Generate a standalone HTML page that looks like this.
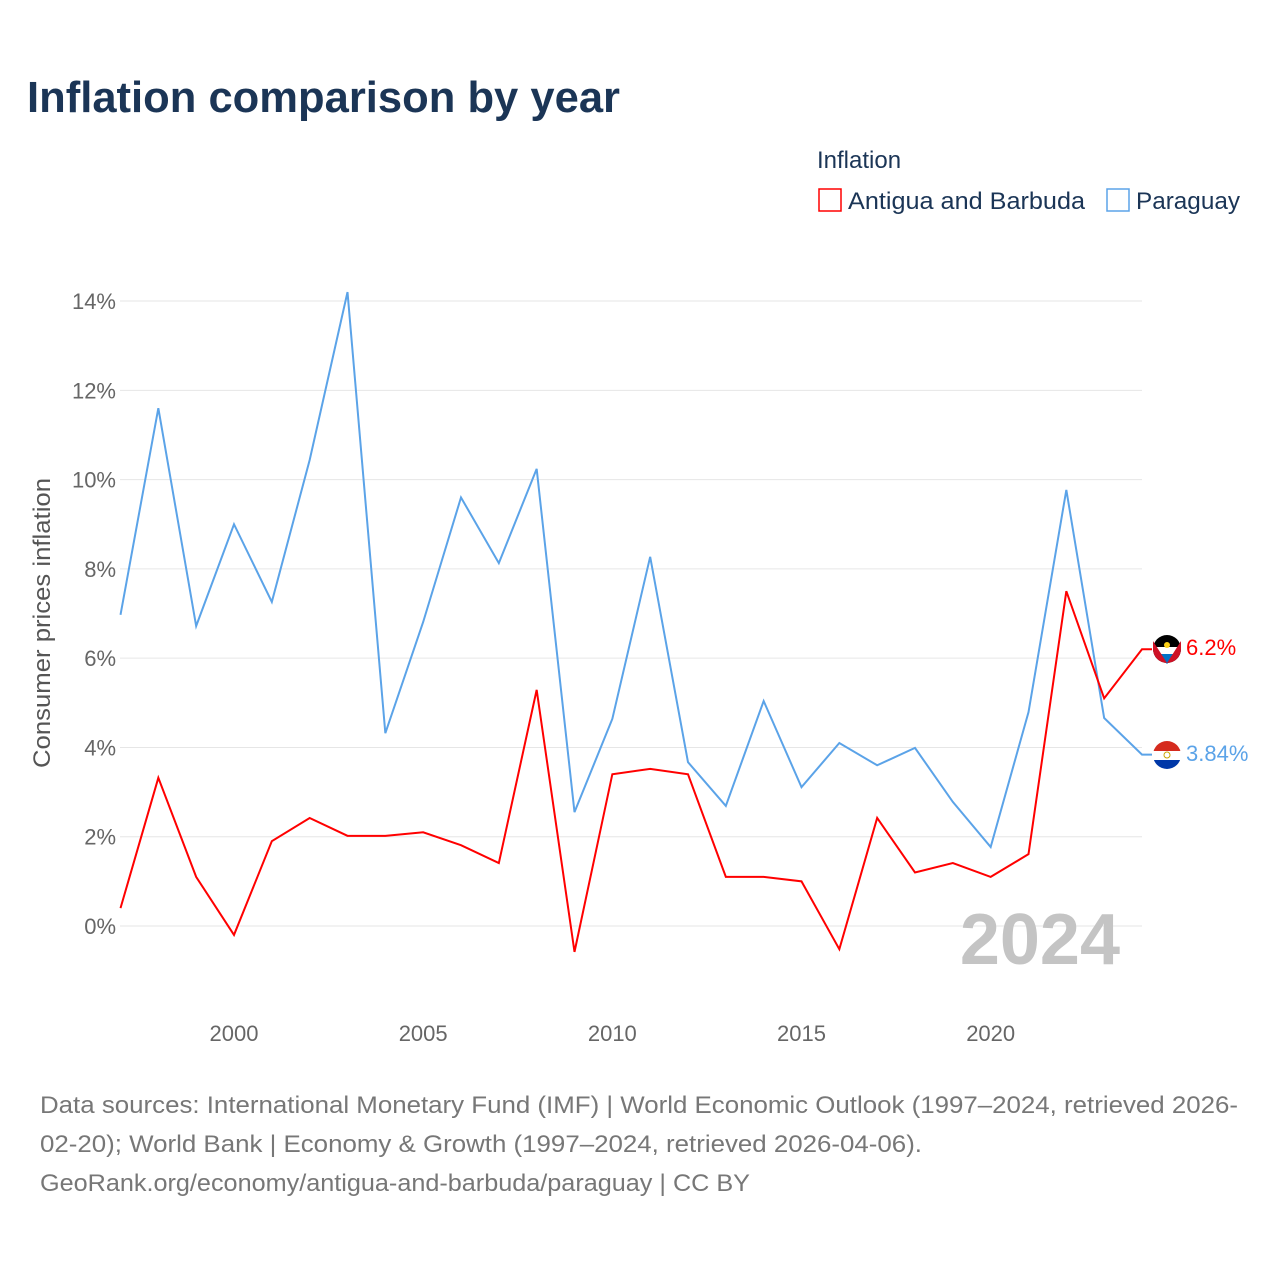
<!DOCTYPE html>
<html><head><meta charset="utf-8"><style>
body{margin:0;background:#fff;font-family:"Liberation Sans",sans-serif;}
</style></head><body>
<svg width="1280" height="1280" xmlns="http://www.w3.org/2000/svg" style="font-family:'Liberation Sans',sans-serif">
<text x="27" y="112" font-size="44" font-weight="bold" fill="#1b3556" textLength="593" lengthAdjust="spacingAndGlyphs">Inflation comparison by year</text>
<text x="817" y="168" font-size="24" fill="#1b3556">Inflation</text>
<g><rect x="819" y="189" width="22" height="22" fill="none" stroke="#ff0000" stroke-width="1.5"/><text x="848" y="209" font-size="24" fill="#1b3556" textLength="237" lengthAdjust="spacingAndGlyphs">Antigua and Barbuda</text></g>
<g><rect x="1107" y="189" width="22" height="22" fill="none" stroke="#5ba3e8" stroke-width="1.5"/><text x="1136" y="209" font-size="24" fill="#1b3556" textLength="104" lengthAdjust="spacingAndGlyphs">Paraguay</text></g>
<g id="grid"></g>
<g id="yticks"></g>
<g id="xticks"></g>
<text transform="translate(50,623) rotate(-90)" text-anchor="middle" font-size="24" fill="#555" textLength="290" lengthAdjust="spacingAndGlyphs">Consumer prices inflation</text>
<text x="1120" y="964" text-anchor="end" font-size="72" font-weight="bold" fill="#c4c4c4">2024</text>
<g id="series"></g>
<g><circle cx="1167" cy="649" r="14" fill="#000"/><path d="M1153,647 L1181,647 L1167,664 Z" fill="#fff"/><path d="M1157,654 L1177,654 L1167,664 Z" fill="#0072c6"/><path d="M1153,649 A14,14 0 0,0 1167,663 L1153,641Z" fill="#ce1126"/><path d="M1181,649 A14,14 0 0,1 1167,663 L1181,641Z" fill="#ce1126"/><circle cx="1167" cy="645" r="3" fill="#fcd116"/></g>
<g><clipPath id="pc"><circle cx="1167" cy="755" r="14"/></clipPath><g clip-path="url(#pc)"><rect x="1153" y="741" width="28" height="10" fill="#d52b1e"/><rect x="1153" y="751" width="28" height="9" fill="#fff"/><rect x="1153" y="760" width="28" height="10" fill="#0038a8"/><circle cx="1167" cy="755" r="3" fill="none" stroke="#c9a400" stroke-width="1"/></g></g>
<text x="1186" y="655" font-size="22" fill="#ff0000">6.2%</text>
<text x="1186" y="761" font-size="22" fill="#5ba3e8">3.84%</text>
<text font-size="24" fill="#777"><tspan x="40" y="1113" textLength="1198" lengthAdjust="spacingAndGlyphs">Data sources: International Monetary Fund (IMF) | World Economic Outlook (1997–2024, retrieved 2026-</tspan><tspan x="40" y="1152" textLength="882" lengthAdjust="spacingAndGlyphs">02-20); World Bank | Economy &amp; Growth (1997–2024, retrieved 2026-04-06).</tspan><tspan x="40" y="1191" textLength="710" lengthAdjust="spacingAndGlyphs">GeoRank.org/economy/antigua-and-barbuda/paraguay | CC BY</tspan></text>
</svg>
<script>
const years=[1997,1998,1999,2000,2001,2002,2003,2004,2005,2006,2007,2008,2009,2010,2011,2012,2013,2014,2015,2016,2017,2018,2019,2020,2021,2022,2023,2024];
const paraguay=[6.97,11.6,6.72,9.0,7.26,10.44,14.2,4.32,6.81,9.6,8.13,10.24,2.55,4.64,8.27,3.67,2.69,5.04,3.11,4.1,3.6,3.99,2.78,1.77,4.79,9.77,4.66,3.84];
const antigua=[0.4,3.32,1.1,-0.2,1.9,2.42,2.02,2.02,2.1,1.81,1.41,5.29,-0.58,3.4,3.52,3.4,1.1,1.1,1.0,-0.52,2.42,1.2,1.41,1.1,1.61,7.5,5.1,6.2];
const yTicks=[0,2,4,6,8,10,12,14];
const xTicks=[2000,2005,2010,2015,2020];
const NS="http://www.w3.org/2000/svg";
const x=v=>120.5+(v-1997)*(1142-120.5)/27;
const y=v=>926-v*44.64;
function mk(t,a,p){const e=document.createElementNS(NS,t);for(const k in a)e.setAttribute(k,a[k]);p.appendChild(e);return e;}
const grid=document.getElementById('grid'),yt=document.getElementById('yticks'),xt=document.getElementById('xticks'),ser=document.getElementById('series');
yTicks.forEach(t=>{
 const l=mk('line',{x1:120,x2:1142,y1:y(t),y2:y(t),stroke:'#e6e6e6','stroke-width':1},grid);
 
 
 const tx=mk('text',{x:116,y:y(t)+8,'text-anchor':'end','font-size':22,fill:'#666'},yt);
 tx.textContent=t+'%';
 
 
});
xTicks.forEach(t=>{
 const tx=mk('text',{x:x(t),y:1041,'text-anchor':'middle','font-size':22,fill:'#666'},xt);
 tx.textContent=t;
 
 
});
function line(vals,color,name){
 const pts=vals.map((v,i)=>x(years[i])+','+y(v));
 const last=vals[vals.length-1];
 pts.push((x(years[years.length-1])+10)+','+y(last));
 const p=mk('polyline',{points:pts.join(' '),fill:'none',stroke:color,'stroke-width':2,'stroke-linejoin':'miter'},ser);
 
 
}
line(paraguay,'#5ba3e8','line-paraguay');
line(antigua,'#ff0000','line-antigua');
</script>
</body></html>
